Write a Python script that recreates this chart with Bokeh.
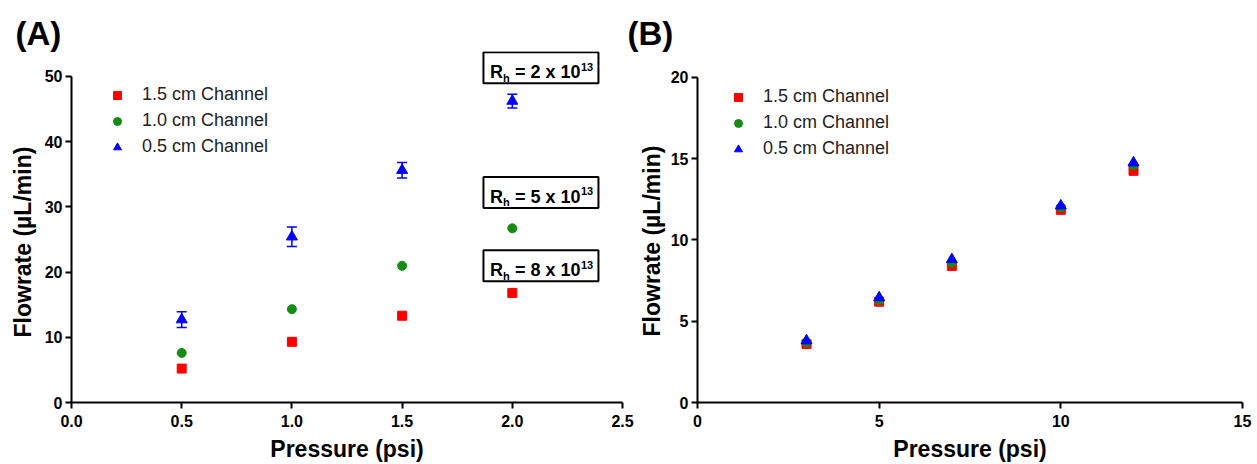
from bokeh.plotting import figure
from bokeh.models import (Range1d, FixedTicker, Legend, LegendItem, Title,
                          Whisker, TeeHead, ColumnDataSource)
from bokeh.layouts import row
from bokeh.embed import file_html
from bokeh.resources import INLINE
from bokeh.core.properties import value

# ---------------- data ----------------
series_names = ["1.5 cm Channel", "1.0 cm Channel", "0.5 cm Channel"]
series_colors = ["#ff0000", "#148c14", "#0000ff"]
series_markers = ["square", "circle", "triangle"]

# Panel A
pressure_a = [0.5, 1.0, 1.5, 2.0]
flow_a_15 = [5.2, 9.3, 13.3, 16.8]
flow_a_10 = [7.6, 14.3, 20.95, 26.7]
flow_a_05 = [12.7, 25.4, 35.6, 46.2]
err_a_05 = [1.2, 1.5, 1.2, 1.05]
rh_values = ["2", "5", "8"]
rh_x = [2.13, 2.13, 2.13]
rh_y = [51.3, 32.2, 20.95]

x_ticks_a = [0.0, 0.5, 1.0, 1.5, 2.0, 2.5]
x_tick_labels_a = ["0.0", "0.5", "1.0", "1.5", "2.0", "2.5"]
y_ticks_a = [0, 10, 20, 30, 40, 50]

# Panel B
pressure_b = [3, 5, 7, 10, 12]
flow_b_15 = [3.6, 6.2, 8.4, 11.85, 14.25]
flow_b_10 = [3.7, 6.3, 8.6, 12.0, 14.6]
flow_b_05 = [3.8, 6.45, 8.8, 12.1, 14.75]

x_ticks_b = [0, 5, 10, 15]
y_ticks_b = [0, 5, 10, 15, 20]

FONT = "Liberation Sans"


def style_axes(p, xlabel):
    p.outline_line_color = None
    p.xgrid.visible = False
    p.ygrid.visible = False
    p.background_fill_color = "white"
    for ax in (p.xaxis[0], p.yaxis[0]):
        ax.axis_line_width = 2
        ax.axis_line_color = "black"
        ax.major_tick_line_width = 2
        ax.major_tick_line_color = "black"
        ax.major_tick_out = 6
        ax.major_tick_in = 0
        ax.minor_tick_line_color = None
        ax.major_label_text_font = FONT
        ax.major_label_text_font_style = "bold"
        ax.major_label_text_font_size = "16px"
        ax.major_label_text_color = "black"
        ax.axis_label_text_font = FONT
        ax.axis_label_text_font_style = "bold"
        ax.axis_label_text_font_size = "23px"
        ax.axis_label_text_color = "black"
    p.xaxis[0].major_label_standoff = 6
    p.yaxis[0].major_label_standoff = 3
    p.xaxis[0].axis_label = xlabel
    p.xaxis[0].axis_label_standoff = 6


def add_y_title(p, text, offset, standoff):
    t = Title(text=text, align="left", offset=offset, standoff=standoff,
              text_font=FONT, text_font_style="bold", text_font_size="23px",
              text_color="black")
    p.add_layout(t, "left")


def add_panel_title(p, text, offset):
    t = Title(text=text, align="left", offset=offset, standoff=0,
              text_font=FONT, text_font_style="bold", text_font_size="33px",
              text_color="black")
    p.add_layout(t, "above")


def add_legend(p, renderers, loc):
    items = [LegendItem(label=n, renderers=[r]) for n, r in zip(series_names, renderers)]
    lg = Legend(items=items, location=loc)
    lg.border_line_color = None
    lg.background_fill_alpha = 0
    lg.padding = 0
    lg.margin = 0
    lg.spacing = 5
    lg.glyph_width = 20
    lg.glyph_height = 20
    lg.label_height = 20
    lg.label_standoff = 15
    lg.label_text_font = FONT
    lg.label_text_font_size = "18px"
    lg.label_text_color = "#222222"
    lg.label_text_baseline = "middle"
    p.add_layout(lg)


# ---------------- panel A ----------------
pA = figure(width=636, height=464, output_backend="svg", toolbar_location=None,
            x_range=Range1d(0, 2.5), y_range=Range1d(0, 53.8),
            min_border_left=71, min_border_right=14, min_border_top=51,
            min_border_bottom=61)
style_axes(pA, "Pressure (psi)")
pA.xaxis[0].ticker = FixedTicker(ticks=x_ticks_a)
pA.xaxis[0].major_label_overrides = {t: l for t, l in zip(x_ticks_a, x_tick_labels_a)}
pA.yaxis[0].ticker = FixedTicker(ticks=y_ticks_a)
pA.yaxis[0].bounds = (0, 50)
pA.xaxis[0].bounds = (0, 2.5)

src_err = ColumnDataSource(dict(x=pressure_a,
                                upper=[v + e for v, e in zip(flow_a_05, err_a_05)],
                                lower=[v - e for v, e in zip(flow_a_05, err_a_05)]))
pA.add_layout(Whisker(base="x", upper="upper", lower="lower", source=src_err,
                      line_color="#0000ff", line_width=1.5,
                      upper_head=TeeHead(size=10, line_color="#0000ff", line_width=1.5),
                      lower_head=TeeHead(size=10, line_color="#0000ff", line_width=1.5)))

rA = []
for ys, c, m, s in zip([flow_a_15, flow_a_10, flow_a_05], series_colors, series_markers, [9, 9, 11]):
    rA.append(pA.scatter(pressure_a, ys, marker=m, size=s, fill_color=c, line_color=c))
add_legend(pA, rA, (36, 245))

# R_h boxes
pA.rect(x=rh_x, y=rh_y, width=115, height=31, width_units="screen", height_units="screen",
        fill_color=None, line_color="black", line_width=2)
txt = dict(text_font=value(FONT), text_font_style="bold", text_color="black",
           text_align="left", text_baseline="alphabetic")
pA.text(x=rh_x, y=rh_y, text=["R"] * 3, text_font_size="18px", x_offset=-51, y_offset=4.5, **txt)
pA.text(x=rh_x, y=rh_y, text=["h"] * 3, text_font_size="11px", x_offset=-38, y_offset=10, **txt)
pA.text(x=rh_x, y=rh_y, text=["= %s x 10" % v for v in rh_values], text_font_size="18px",
        x_offset=-26, y_offset=4.5, **txt)
pA.text(x=rh_x, y=rh_y, text=["13"] * 3, text_font_size="11px", x_offset=40, y_offset=-1, **txt)

add_panel_title(pA, "(A)", -56)
add_y_title(pA, "Flowrate (µL/min)", 65, 12)

# ---------------- panel B ----------------
pB = figure(width=631, height=464, output_backend="svg", toolbar_location=None,
            x_range=Range1d(0, 15), y_range=Range1d(0, 21.59),
            min_border_left=71, min_border_right=15, min_border_top=51,
            min_border_bottom=61)
pB.border_fill_color = None
pB.margin = (0, 0, 0, -10)
style_axes(pB, "Pressure (psi)")
pB.xaxis[0].ticker = FixedTicker(ticks=x_ticks_b)
pB.yaxis[0].ticker = FixedTicker(ticks=y_ticks_b)
pB.yaxis[0].bounds = (0, 20)
pB.xaxis[0].bounds = (0, 15)

rB = []
for ys, c, m, s in zip([flow_b_15, flow_b_10, flow_b_05], series_colors, series_markers, [9, 9, 11]):
    rB.append(pB.scatter(pressure_b, ys, marker=m, size=s, fill_color=c, line_color=c))
add_legend(pB, rB, (31, 243))

add_panel_title(pB, "(B)", -70)
add_y_title(pB, "Flowrate (µL/min)", 66, 5)

layout = row(pA, pB)
open("out.html", "w").write(file_html(layout, INLINE))
